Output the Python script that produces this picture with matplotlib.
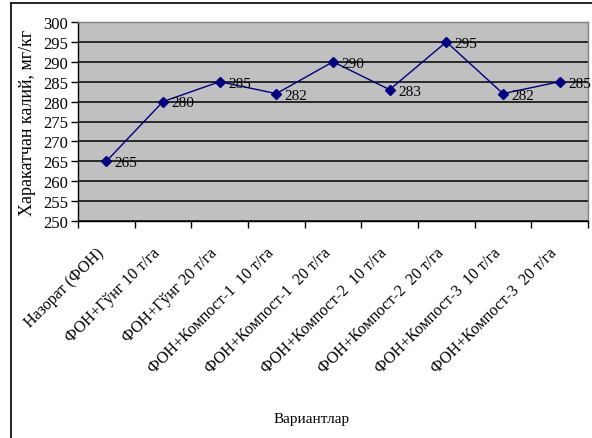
import matplotlib
matplotlib.use("Agg")
import matplotlib.pyplot as plt
from matplotlib.lines import Line2D
from matplotlib.transforms import ScaledTranslation

plt.rcParams['font.family'] = ['Liberation Serif', 'DejaVu Serif']

variants = ["Назорат (ФОН)",
            "ФОН+Гўнг 10 т/га",
            "ФОН+Гўнг 20 т/га",
            "ФОН+Компост-1  10 т/га",
            "ФОН+Компост-1  20 т/га",
            "ФОН+Компост-2  10 т/га",
            "ФОН+Компост-2  20 т/га",
            "ФОН+Компост-3  10 т/га",
            "ФОН+Компост-3  20 т/га"]
potassium = [265, 280, 285, 282, 290, 283, 295, 282, 285]
y_ticks = list(range(250, 301, 5))

fig = plt.figure(figsize=(5.92, 4.39), dpi=100)
ax = fig.add_axes([78 / 592, 1 - 222 / 439, 510 / 592, 199 / 439])
ax.set_facecolor("#C0C0C0")

x = list(range(len(variants)))
ax.plot(x, potassium, color="#000080", linewidth=1.0, marker="D", markersize=5,
        markerfacecolor="#000080", markeredgecolor="#000080", zorder=3)
for xi, v in zip(x, potassium):
    ax.annotate(str(v), (xi, v), xytext=(6, -1), textcoords="offset points",
                ha="left", va="center", fontsize=11, color="black", zorder=4)

ax.set_xlim(-0.5, len(variants) - 0.5)
ax.set_ylim(250, 300)
ax.set_yticks(y_ticks)
ax.set_yticklabels([str(t) for t in y_ticks], fontsize=12)
ax.yaxis.grid(True, color="black", linewidth=1.1)
ax.set_axisbelow(True)

# category boundaries carry the ticks, labels sit at the centres
ax.set_xticks([i - 0.5 for i in range(len(variants) + 1)])
ax.set_xticklabels([])
ax.set_xticks(x, minor=True)
ax.set_xticklabels(variants, minor=True, rotation=45, ha="right", va="center",
                   rotation_mode="anchor", fontsize=11.5)
ax.tick_params(axis="x", which="minor", length=0, pad=21)
ax.tick_params(axis="x", which="major", length=5, width=1, color="black")
ax.tick_params(axis="y", length=5, width=1, color="black", pad=2)
shift = ScaledTranslation(-5 / 100, 0, fig.dpi_scale_trans)
for lbl in ax.get_xticklabels(minor=True):
    lbl.set_transform(lbl.get_transform() + shift)

for side in ["top", "right"]:
    ax.spines[side].set_color("#808080")
for side in ["left", "bottom"]:
    ax.spines[side].set_color("black")
for s in ax.spines.values():
    s.set_linewidth(1.0)

ax.set_ylabel("Харакатчан калий, мг/кг", fontsize=13, labelpad=5)
fig.text(312 / 592, 1 - 420 / 439, "Вариантлар", ha="center", va="center", fontsize=11)

# chart frame
fig.add_artist(Line2D([11 / 592, 11 / 592], [0, 1 - 4 / 439], color="black", linewidth=1.2,
                      transform=fig.transFigure))
fig.add_artist(Line2D([11 / 592, 1], [1 - 4 / 439, 1 - 4 / 439], color="black", linewidth=1.2,
                      transform=fig.transFigure))

fig.savefig("out.png", dpi=100)
